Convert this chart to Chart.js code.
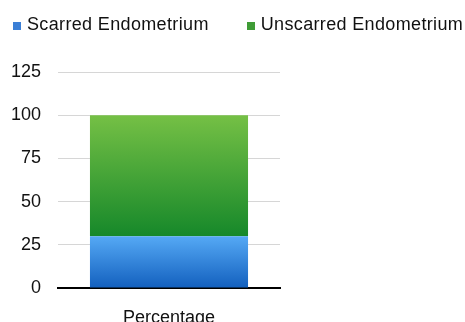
<!DOCTYPE html>
<html>
<head>
<meta charset="utf-8">
<script src="https://cdn.jsdelivr.net/npm/chart.js@4"></script>
<style>
  html, body { margin: 0; padding: 0; background: #fff; }
  #wrap { position: relative; width: 465px; height: 322px; overflow: hidden; }
  #legend { position: absolute; left: 13px; top: 14px; display: flex; gap: 38px;
            font: 18px "Liberation Sans", Arial, sans-serif; color: #111; line-height: 21px;
            letter-spacing: 0.35px; }
  .item { display: flex; align-items: center; white-space: nowrap; }
  .box { width: 8px; height: 8px; margin-right: 6px; margin-top: 2px; }
</style>
</head>
<body>
<div id="wrap">
  <canvas id="chart" width="465" height="322"></canvas>
  <div id="legend"></div>
</div>
<script>
// data
const categories = ["Percentage"];
const seriesNames = ["Scarred Endometrium", "Unscarred Endometrium"];
const scarred = [30];
const unscarred = [70];

// top / bottom colours of each bar segment, plus legend swatch
const blue = { top: "#55a9f5", bottom: "#1360be", swatch: "#3b7fd6" };
const green = { top: "#75c045", bottom: "#16882a", swatch: "#3f9c36" };

function barGradient(ctx, c) {
  const chart = ctx.chart;
  if (!chart.chartArea || ctx.dataIndex === undefined) return c.top;
  const y = chart.scales.y;
  const sets = chart.data.datasets;
  let start = 0;
  for (let k = 0; k < ctx.datasetIndex; k++) start += sets[k].data[ctx.dataIndex];
  const end = start + sets[ctx.datasetIndex].data[ctx.dataIndex];
  const g = chart.ctx.createLinearGradient(0, y.getPixelForValue(end), 0, y.getPixelForValue(start));
  g.addColorStop(0, c.top);
  g.addColorStop(1, c.bottom);
  return g;
}

// html legend
const legend = document.getElementById("legend");
[blue, green].forEach(function(c, i) {
  const item = document.createElement("div");
  item.className = "item";
  item.innerHTML = '<span class="box" style="background:' + c.swatch + '"></span>' + seriesNames[i];
  legend.appendChild(item);
});

const font = { family: '"Liberation Sans", Arial, sans-serif', size: 18 };

new Chart(document.getElementById("chart"), {
  type: "bar",
  data: {
    labels: categories,
    datasets: [
      {
        label: seriesNames[0],
        data: scarred,
        backgroundColor: (ctx) => barGradient(ctx, blue),
        categoryPercentage: 1,
        barPercentage: 0.712,
      },
      {
        label: seriesNames[1],
        data: unscarred,
        backgroundColor: (ctx) => barGradient(ctx, green),
        categoryPercentage: 1,
        barPercentage: 0.712,
      },
    ],
  },
  options: {
    responsive: false,
    animation: false,
    layout: { padding: { top: 72, left: 0, right: 0, bottom: 0 } },
    plugins: { legend: { display: false }, tooltip: { enabled: false } },
    scales: {
      x: {
        stacked: true,
        grid: { display: false },
        border: { display: true, color: "#000", width: 2 },
        ticks: { font: font, color: "#111", padding: 11 },
        afterFit: (s) => { s.height = 34; },
      },
      y: {
        stacked: true,
        min: 0,
        max: 125,
        ticks: { stepSize: 25, font: font, color: "#111", padding: 17 },
        grid: {
          drawTicks: false,
          color: (ctx) => (ctx.tick && ctx.tick.value === 0 ? "#000" : "#d6d6d6"),
        },
        border: { display: false },
        afterFit: (s) => { s.width = 58; },
      },
      // empty right-hand space in the original
      spacer: {
        type: "linear",
        position: "right",
        display: true,
        grid: { display: false },
        ticks: { display: false },
        border: { display: false },
        afterFit: (s) => { s.width = 185; },
      },
    },
  },
});
</script>
</body>
</html>
